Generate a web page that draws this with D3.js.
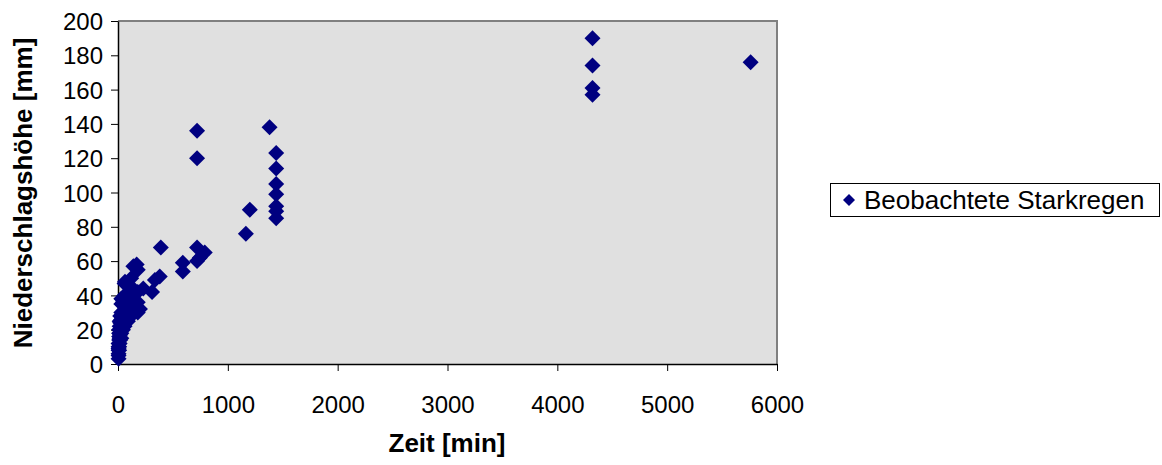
<!DOCTYPE html>
<html>
<head>
<meta charset="utf-8">
<script src="https://cdn.jsdelivr.net/npm/d3@7"></script>
<style>
  body { margin: 0; background: #fff; }
  text { font-family: "Liberation Sans", Arial, sans-serif; }
</style>
</head>
<body>
<div id="chart"></div>
<script>
// Dauer [min] und Niederschlagshoehe [mm] der beobachteten Starkregen
const zeit = [
  5, 5, 5, 5, 5, 5, 5,
  10, 10, 10, 10, 10, 10, 10,
  15, 15, 15, 15, 15, 15,
  20, 20, 20, 20, 20,
  30, 30, 30, 30, 30, 30, 30,
  45, 45, 45, 45,
  60, 60, 60, 60, 60, 60,
  90, 90, 90, 90,
  120, 120, 120, 120, 120,
  150, 180, 180, 180, 200,
  36, 64, 140, 170, 180, 230, 310, 336, 380, 390,
  590, 590, 720, 720, 745, 790, 720, 720,
  1164, 1200, 1380,
  1440, 1440, 1440, 1440, 1440, 1440, 1440,
  4320, 4320, 4320, 4320, 5760
];
const hoehe = [
  3, 5, 6, 8, 9, 10, 12,
  8, 10, 12, 14, 16, 18, 20,
  12, 15, 18, 20, 22, 25,
  14, 17, 20, 24, 28,
  15, 18, 22, 26, 30, 35, 38,
  20, 25, 30, 36,
  22, 26, 30, 35, 40, 47,
  25, 30, 35, 40,
  28, 32, 38, 45, 50,
  35, 30, 36, 42, 32,
  38, 48, 57, 58, 55, 44, 42, 49, 51, 68,
  59, 54, 68, 60, 62, 65, 136, 120,
  76, 90, 138,
  123, 114, 105, 99, 92, 89, 85,
  190, 174, 161, 157, 176
];
const xTicks = [0, 1000, 2000, 3000, 4000, 5000, 6000];
const yTicks = [0, 20, 40, 60, 80, 100, 120, 140, 160, 180, 200];
const seriesName = "Beobachtete Starkregen";

const data = zeit.map((z, i) => ({ x: z, y: hoehe[i] }));

const width = 1162, height = 465;
const margin = { left: 118, right: 385, top: 21, bottom: 101 };

const svg = d3.select("#chart").append("svg")
  .attr("width", width)
  .attr("height", height);

const xScale = d3.scaleLinear().domain([0, 6000])
  .range([margin.left, width - margin.right]);
const yScale = d3.scaleLinear().domain([0, 200])
  .range([height - margin.bottom, margin.top]);

const x0 = xScale.range()[0], x1 = xScale.range()[1];
const y0 = yScale.range()[0], y1 = yScale.range()[1];

// Plotflaeche
svg.append("rect")
  .attr("x", x0).attr("y", y1)
  .attr("width", x1 - x0).attr("height", y0 - y1)
  .attr("fill", "#e0e0e0");
// grauer Rahmen oben und rechts
svg.append("path")
  .attr("d", `M${x0},${y1}H${x1}V${y0}`)
  .attr("fill", "none")
  .attr("stroke", "#808080")
  .attr("stroke-width", 2);

// x-Achse
const gx = svg.append("g")
  .attr("transform", `translate(0, ${y0})`)
  .call(d3.axisBottom(xScale).tickValues(xTicks).tickFormat(d3.format("d"))
    .tickSize(7).tickSizeOuter(0).tickPadding(25));
// y-Achse
const gy = svg.append("g")
  .attr("transform", `translate(${x0}, 0)`)
  .call(d3.axisLeft(yScale).tickValues(yTicks).tickFormat(d3.format("d"))
    .tickSize(7).tickSizeOuter(0).tickPadding(8));

[gx, gy].forEach((g) => {
  g.select(".domain").attr("stroke", "#000").attr("stroke-width", 1.5);
  g.selectAll(".tick line").attr("stroke", "#000");
  g.selectAll(".tick text")
    .attr("font-size", 24)
    .attr("font-family", "Liberation Sans, Arial, sans-serif")
    .attr("fill", "#000");
});
gy.selectAll(".tick text").attr("dy", "0.36em");

// Achsentitel
svg.append("text")
  .attr("x", 447)
  .attr("y", 452)
  .attr("text-anchor", "middle")
  .attr("font-size", 26)
  .attr("font-weight", "bold")
  .text("Zeit [min]");
svg.append("text")
  .attr("transform", `translate(32, 193) rotate(-90)`)
  .attr("text-anchor", "middle")
  .attr("font-size", 26)
  .attr("font-weight", "bold")
  .text("Niederschlagshöhe [mm]");

// Punkte als Rauten
const diamond = (s) => `M0,${-s}L${s},0L0,${s}L${-s},0Z`;
svg.append("g")
  .selectAll("path")
  .data(data)
  .enter()
  .append("path")
    .attr("transform", (d) => `translate(${xScale(d.x)}, ${yScale(d.y)})`)
    .attr("d", diamond(8))
    .attr("fill", "#000080");

// Legende
const lg = svg.append("g").attr("transform", "translate(830, 183)");
lg.append("rect")
  .attr("x", 0.5).attr("y", 0.5)
  .attr("width", 329).attr("height", 33)
  .attr("fill", "#fff")
  .attr("stroke", "#000");
lg.append("path")
  .attr("transform", "translate(19, 17)")
  .attr("d", diamond(6))
  .attr("fill", "#000080");
lg.append("text")
  .attr("x", 34).attr("y", 26)
  .attr("font-size", 26)
  .text(seriesName);
</script>
</body>
</html>
